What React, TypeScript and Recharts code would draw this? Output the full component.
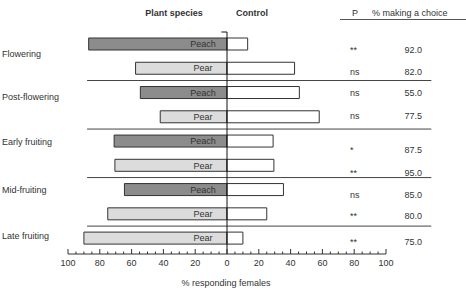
import { Bar, BarChart, Cell, LabelList, ReferenceLine, XAxis, YAxis } from 'recharts';

// one row per bar, top to bottom
const rowSpecies = ['Peach', 'Pear', 'Peach', 'Pear', 'Peach', 'Pear', 'Peach', 'Pear', 'Pear'];
const plantPct = [87, 57.5, 54.5, 42, 71, 70.5, 64.5, 75, 90];
const controlPct = [13, 42.5, 45.5, 58, 29, 29.5, 35.5, 25, 10];
const pLevels = ['**', 'ns', 'ns', 'ns', '*', '**', 'ns', '**', '**'];
const choicePct = ['92.0', '82.0', '55.0', '77.5', '87.5', '95.0', '85.0', '80.0', '75.0'];

const stages = ['Flowering', 'Post-flowering', 'Early fruiting', 'Mid-fruiting', 'Late fruiting'];
const stageFirstRow = [0, 2, 4, 6, 8];
const separatorsAfter = [1, 3, 5, 7];

// small vertical nudges for the text columns (layout only)
const stageDy = [10, 4.5, 1, 0.7, -2.3];
const rowTextDy = [6, 4, 0, -1, 9, 7, 5, 2, 4];

const FONT = 'Arial, "Liberation Sans", sans-serif';
const INK = '#333';
const fills: Record<string, string> = { Peach: '#8c8c8c', Pear: '#dcdcdc' };

const rows = rowSpecies.map((species, i) => ({
  idx: i,
  species,
  plant: -plantPct[i],
  control: controlPct[i],
}));

const allTicks: number[] = [];
for (let v = -100; v <= 100; v += 5) allTicks.push(v);

function box(props: any) {
  const vb = props.viewBox ?? props;
  const x0 = Math.min(vb.x, vb.x + vb.width);
  const x1 = Math.max(vb.x, vb.x + vb.width);
  const cy = vb.y + vb.height / 2;
  return { x0, x1, cy };
}

function PlantLabel(props: any) {
  const { x1, cy } = box(props);
  const i = props.index;
  const s = stageFirstRow.indexOf(i);
  return (
    <g>
      <text x={x1 - 24} y={cy + 3.2} textAnchor="middle" fontSize={9} fontFamily={FONT} fill={INK}>
        {rowSpecies[i]}
      </text>
      {s >= 0 && (
        <text x={2} y={cy + stageDy[s] + 3.2} fontSize={9} fontFamily={FONT} fill={INK}>
          {stages[s]}
        </text>
      )}
    </g>
  );
}

function RightColumns(props: any) {
  const { cy } = box(props);
  const i = props.index;
  const y = cy + rowTextDy[i] + 3.2;
  return (
    <g fontSize={9} fontFamily={FONT} fill={INK}>
      <text x={350} y={y}>{pLevels[i]}</text>
      <text x={422} y={y} textAnchor="end">{choicePct[i]}</text>
    </g>
  );
}

function AxisTick(props: any) {
  const { x, y, payload } = props;
  const v = payload.value;
  const major = v % 20 === 0;
  return (
    <g>
      <line x1={x} x2={x} y1={y} y2={y - (major ? 5 : 2.5)} stroke={INK} strokeWidth={1} />
      {major && (
        <text x={x} y={y + 11.5} textAnchor="middle" fontSize={9} fontFamily={FONT} fill={INK}>
          {Math.abs(v)}
        </text>
      )}
    </g>
  );
}

export default function App() {
  return (
    <div style={{ position: 'absolute', left: 0, top: 0, width: 466, height: 290, background: '#fff' }}>
      <BarChart
        width={466}
        height={290}
        data={rows}
        layout="vertical"
        stackOffset="sign"
        margin={{ top: 32, right: 80, bottom: 0, left: 68 }}
      >
        <XAxis
          type="number"
          domain={[-100, 100]}
          ticks={allTicks}
          interval={0}
          height={36}
          tickLine={false}
          tickSize={0}
          tickMargin={0}
          axisLine={{ stroke: INK }}
          tick={<AxisTick />}
        />
        <YAxis type="number" dataKey="idx" domain={[-0.5, 8.65]} hide />
        {separatorsAfter.map((r) => (
          <ReferenceLine
            key={r}
            segment={[{ x: -88, y: r + 0.5 }, { x: 128.5, y: r + 0.5 }]}
            stroke="#444"
            ifOverflow="visible"
          />
        ))}
        <Bar dataKey="plant" stackId="s" barSize={12} stroke={INK} strokeWidth={1} isAnimationActive={false}>
          {rows.map((r) => (
            <Cell key={r.idx} fill={fills[r.species]} />
          ))}
          <LabelList dataKey="species" content={<PlantLabel />} />
        </Bar>
        <Bar dataKey="control" stackId="s" barSize={12} fill="#fff" stroke={INK} strokeWidth={1} isAnimationActive={false}>
          <LabelList dataKey="control" content={<RightColumns />} />
        </Bar>
        <ReferenceLine x={0} stroke="#111" ifOverflow="visible" />
        <ReferenceLine segment={[{ x: -3.5, y: -0.5 }, { x: 0, y: -0.5 }]} stroke="#111" ifOverflow="visible" />
      </BarChart>
      <svg
        width={466}
        height={290}
        style={{ position: 'absolute', left: 0, top: 0, pointerEvents: 'none' }}
        fontFamily={FONT}
        fontSize={9}
        fill={INK}
      >
        <text x={174} y={16} textAnchor="middle" fontWeight="bold">Plant species</text>
        <text x={252} y={16} textAnchor="middle" fontWeight="bold">Control</text>
        <text x={352} y={16}>P</text>
        <text x={372} y={16}>% making a choice</text>
        <line x1={340} x2={466} y1={19.5} y2={19.5} stroke="#555" strokeWidth={1} />
        <text x={226} y={286} textAnchor="middle">% responding females</text>
      </svg>
    </div>
  );
}
